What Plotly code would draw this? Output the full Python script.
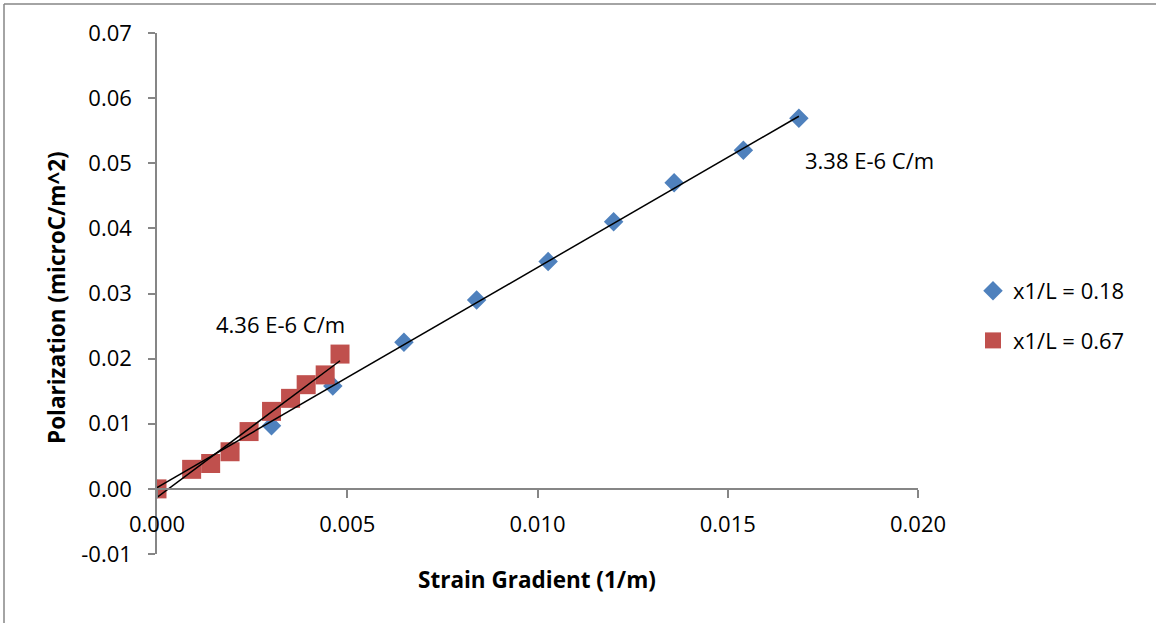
import plotly.graph_objects as go

# Measured strain gradient (1/m) and polarization (microC/m^2)
x_018 = [0.0, 0.00301, 0.00462, 0.00649, 0.00840, 0.01028, 0.01200, 0.01359, 0.01541, 0.01687]
y_018 = [0.0, 0.0097, 0.0158, 0.0225, 0.0290, 0.0349, 0.0410, 0.0470, 0.0520, 0.0569]

x_067 = [0.0, 0.00091, 0.00141, 0.00192, 0.00242, 0.00301, 0.00351, 0.00392, 0.00442, 0.00481]
y_067 = [0.0, 0.0030, 0.0039, 0.0057, 0.0088, 0.0119, 0.0139, 0.0160, 0.0175, 0.0207]

# Linear trendlines: slope (microC/m) and intercept
slope_018, icpt_018 = 3.38, 0.0002
slope_067, icpt_067 = 4.36, -0.0013

series_names = ["x1/L = 0.18", "x1/L = 0.67"]
slope_labels = ["3.38 E-6 C/m", "4.36 E-6 C/m"]

x_ticks = [0.0, 0.005, 0.010, 0.015, 0.020]
y_ticks = [-0.01, 0.0, 0.01, 0.02, 0.03, 0.04, 0.05, 0.06, 0.07]

FONT = "Open Sans"
FS = 22
FS_TITLE = 22.5
AXIS_GREY = "#868686"
BLUE = "#4F81BD"
RED = "#C0504D"

W, H = 1156, 623
L, R, T, B = 157, 238, 33, 69
pw, ph = W - L - R, H - T - B


def px_x(p):
    return (p - L) / pw


def px_y(p):
    return (H - B - p) / ph


# plain hyphen-minus in labels, as in a spreadsheet chart
x_text = [f"{v:.3f}" for v in x_ticks]
y_text = [f"{v:.2f}" for v in y_ticks]

fig = go.Figure()

fig.add_trace(go.Scatter(
    x=x_018, y=y_018, mode="markers", name=series_names[0],
    legendgroup="a",
    marker=dict(symbol="diamond", size=15, color=BLUE),
))
fig.add_trace(go.Scatter(
    x=x_067, y=y_067, mode="markers", name=series_names[1],
    legendgroup="b",
    marker=dict(symbol="square", size=19, color=RED),
))

# Trendlines over each series' x range
for xs, m, c in [(x_018, slope_018, icpt_018), (x_067, slope_067, icpt_067)]:
    x0, x1 = min(xs), max(xs)
    fig.add_trace(go.Scatter(
        x=[x0, x1], y=[c + m * x0, c + m * x1], mode="lines",
        line=dict(color="black", width=1.5), showlegend=False, hoverinfo="skip",
    ))

fig.add_annotation(x=0.01698, y=0.0505, text=slope_labels[0], showarrow=False,
                   xanchor="left", yanchor="middle", font=dict(size=FS, color="black", family=FONT))
fig.add_annotation(x=0.00150, y=0.0253, text=slope_labels[1], showarrow=False,
                   xanchor="left", yanchor="middle", font=dict(size=FS, color="black", family=FONT))

# Axis titles
fig.add_annotation(xref="paper", yref="paper", x=px_x(537), y=px_y(579),
                   text="<b>Strain Gradient (1/m)</b>", showarrow=False,
                   xanchor="center", yanchor="middle", font=dict(size=FS_TITLE, color="black", family=FONT))
fig.add_annotation(xref="paper", yref="paper", x=px_x(56), y=px_y(298),
                   text="<b>Polarization (microC/m^2)</b>", showarrow=False, textangle=-90,
                   xanchor="center", yanchor="middle", font=dict(size=FS_TITLE, color="black", family=FONT))

# Outer frame (top and left edges)
fig.add_shape(type="line", xref="paper", yref="paper",
              x0=px_x(4), x1=px_x(W + 5), y0=px_y(4), y1=px_y(4),
              line=dict(color=AXIS_GREY, width=1.5))
fig.add_shape(type="line", xref="paper", yref="paper",
              x0=px_x(4), x1=px_x(4), y0=px_y(4), y1=px_y(H + 5),
              line=dict(color=AXIS_GREY, width=1.5))

fig.update_layout(
    width=W, height=H,
    margin=dict(l=L, r=R, t=T, b=B),
    paper_bgcolor="white", plot_bgcolor="white",
    font=dict(family=FONT, size=FS, color="black"),
    showlegend=True,
    legend=dict(x=px_x(973), y=px_y(270), xanchor="left", yanchor="top",
                font=dict(size=FS, family=FONT, color="black"),
                traceorder="grouped", tracegroupgap=18,
                bgcolor="rgba(0,0,0,0)"),
    xaxis=dict(range=[0, 0.020], tickvals=x_ticks, ticktext=x_text,
               anchor="free", position=0.125,
               showgrid=False, zeroline=False, showline=True, linecolor=AXIS_GREY, linewidth=1.5,
               ticks="outside", ticklen=8, tickcolor=AXIS_GREY, tickwidth=1.5,
               ticklabelstandoff=8,
               tickfont=dict(size=FS, family=FONT, color="black")),
    yaxis=dict(range=[-0.01, 0.07], tickvals=y_ticks, ticktext=y_text,
               showgrid=False, zeroline=False, showline=True, linecolor=AXIS_GREY, linewidth=1.5,
               ticks="outside", ticklen=7, tickcolor=AXIS_GREY, tickwidth=1.5,
               ticklabelstandoff=12,
               tickfont=dict(size=FS, family=FONT, color="black")),
)

fig.write_html("out.html")
